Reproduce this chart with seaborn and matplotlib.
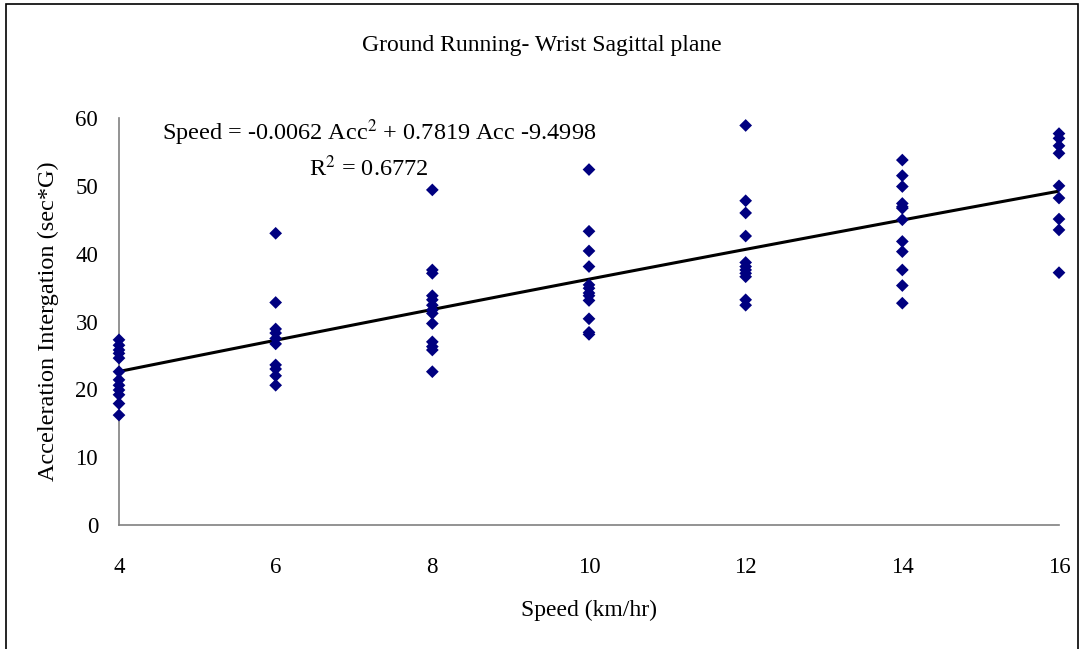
"""Ground running wrist sagittal plane: acceleration integration vs speed."""
import numpy as np
import pandas as pd
import matplotlib.pyplot as plt
import seaborn as sns
from matplotlib.patches import Rectangle

# values, one list per treadmill speed
speeds = [4, 6, 8, 10, 12, 14, 16]
acc_4 = [27.3, 26.5, 25.8, 25.3, 24.6, 22.6, 21.4, 20.6, 19.9, 19.2, 17.9, 16.2]
acc_6 = [43.0, 32.8, 28.9, 28.3, 27.5, 26.7, 23.6, 23.0, 22.0, 20.6]
acc_8 = [49.4, 37.6, 37.1, 33.8, 33.2, 32.4, 31.7, 31.2, 29.7, 27.0, 26.3, 25.8, 22.6]
acc_10 = [52.4, 43.3, 40.4, 38.1, 35.4, 34.9, 34.2, 33.8, 33.1, 30.4, 28.4, 28.1]
acc_12 = [58.9, 47.8, 46.0, 42.6, 38.7, 38.1, 37.6, 37.1, 36.6, 33.2, 32.4]
acc_14 = [53.8, 51.5, 49.9, 47.4, 46.9, 46.7, 45.0, 41.8, 40.3, 37.6, 35.3, 32.7]
acc_16 = [57.7, 57.0, 55.9, 54.8, 50.0, 48.2, 45.1, 43.5, 37.2]

x_ticks = [4, 6, 8, 10, 12, 14, 16]
y_ticks = [0, 10, 20, 30, 40, 50, 60]

title = "Ground Running- Wrist Sagittal plane"
x_label = "Speed (km/hr)"
y_label = "Acceleration Intergation (sec*G)"
eq_text = "Speed = -0.0062 Acc$^2$ + 0.7819 Acc -9.4998"
r2_text = "R$^2$ = 0.6772"

# long table for seaborn
groups = [acc_4, acc_6, acc_8, acc_10, acc_12, acc_14, acc_16]
df = pd.DataFrame({
    "speed": np.concatenate([[s] * len(g) for s, g in zip(speeds, groups)]),
    "acc": np.concatenate(groups),
})

sns.set_style("white")
plt.rcParams["font.family"] = ["Liberation Serif", "DejaVu Serif"]
plt.rcParams["mathtext.fontset"] = "stix"
plt.rcParams["text.color"] = "black"
plt.rcParams["axes.labelcolor"] = "black"
plt.rcParams["xtick.labelcolor"] = "black"
plt.rcParams["ytick.labelcolor"] = "black"

fig = plt.figure(figsize=(10.84, 6.49), dpi=100)
ax = fig.add_axes([119 / 1084, 1 - 525 / 649, 940 / 1084, 407 / 649])

sns.scatterplot(data=df, x="speed", y="acc", marker="D", s=42,
                color="#000080", edgecolor="none", ax=ax, zorder=3,
                clip_on=False)
sns.regplot(data=df, x="speed", y="acc", order=2, ci=None, scatter=False,
            line_kws={"color": "black", "linewidth": 2.2}, ax=ax)

ax.set_xlim(4, 16)
ax.set_ylim(0, 60)
ax.set_xticks(x_ticks)
ax.set_yticks(y_ticks)
ax.tick_params(axis="both", direction="in", length=5, width=1,
               color="#808080", labelcolor="black", labelsize=16.5)
ax.tick_params(axis="x", pad=23)
ax.tick_params(axis="y", pad=15)

for side in ["top", "right"]:
    ax.spines[side].set_visible(False)
for side in ["left", "bottom"]:
    ax.spines[side].set_color("#808080")
    ax.spines[side].set_linewidth(1.2)

ax.set_xlabel(x_label, fontsize=17, labelpad=16, color="black")
ax.set_ylabel(y_label, fontsize=17.5, labelpad=12, color="black")

ax.text(0.046, 0.963, eq_text, transform=ax.transAxes, fontsize=17.5,
        ha="left", va="center", color="black")
ax.text(0.265, 0.875, r2_text, transform=ax.transAxes, fontsize=17.5,
        ha="center", va="center", color="black")

fig.text(0.5, 1 - 45 / 649, title, fontsize=17, ha="center", va="center",
         color="black")

# outer chart border
fig.patches.append(Rectangle((6 / 1084, -0.01), 1 - 12 / 1084, 1 - 4 / 649 + 0.01,
                             transform=fig.transFigure, fill=False,
                             edgecolor="black", linewidth=1.2))

fig.savefig("out.png", dpi=100)
